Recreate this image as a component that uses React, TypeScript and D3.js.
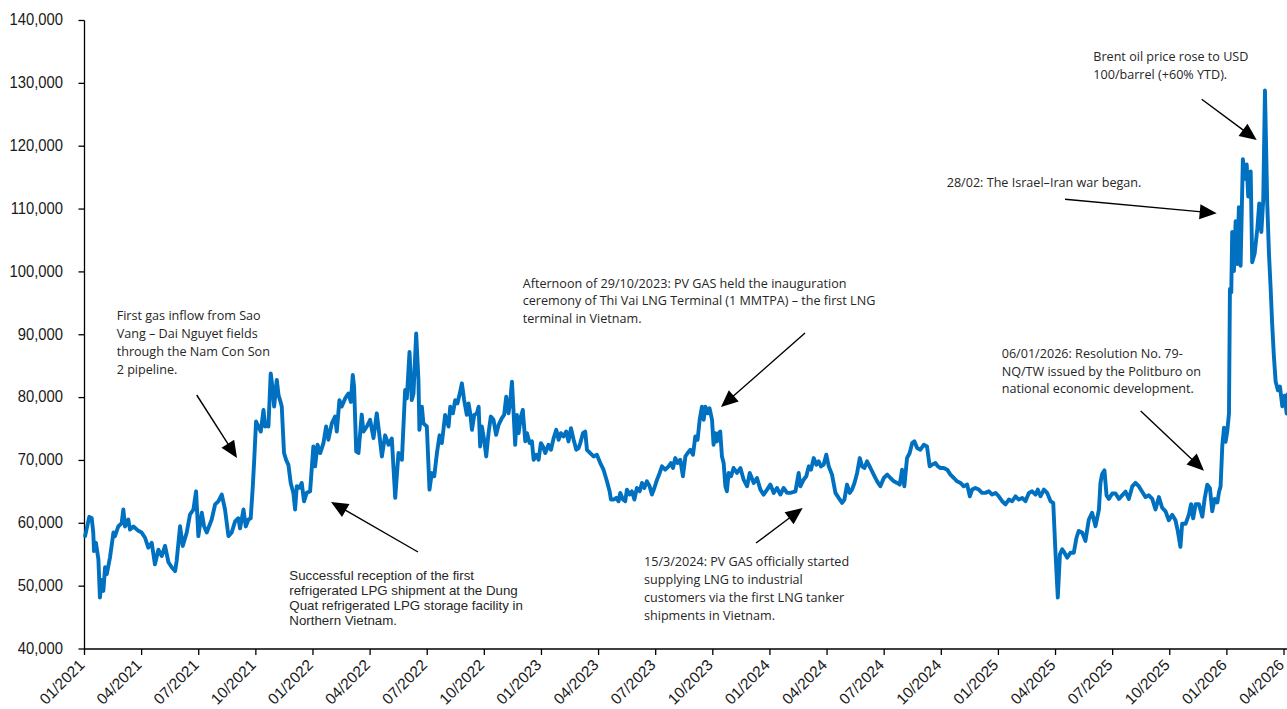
import React from 'react';
import * as d3 from 'd3';

const W = 1287;
const H = 709;

// x = months since 01/2021, y = share price (VND)
const series2021: [number, number][] = [
  [0.03, 57960], [0.25, 61030], [0.38, 60800], [0.46, 58540], [0.5, 55580], [0.6, 56900], [0.73, 54260], [0.81, 48190],
  [0.9, 51000], [0.99, 49240], [1.08, 53000], [1.17, 51900], [1.34, 54580], [1.52, 58540], [1.6, 57960], [1.78, 59540],
  [1.95, 60000], [2.04, 62190], [2.13, 59500], [2.3, 60600], [2.39, 59000], [2.57, 59500], [2.83, 58800], [3.0, 58540],
  [3.18, 57700], [3.35, 56120], [3.53, 56900], [3.7, 53470], [3.88, 55800], [4.06, 54800], [4.23, 56400], [4.41, 53800],
  [4.58, 53000], [4.76, 52400], [4.84, 54000], [5.02, 59540], [5.16, 56400], [5.37, 58540], [5.54, 61400], [5.72, 62190],
  [5.86, 65090], [5.98, 57960], [6.16, 61670], [6.28, 59540], [6.42, 58540], [6.68, 60600], [6.86, 63000], [7.03, 63500],
  [7.21, 64570], [7.38, 62190], [7.56, 57960], [7.73, 58540], [7.91, 60300], [8.08, 60800], [8.17, 59200], [8.35, 62190],
  [8.47, 59500], [8.61, 60600], [8.73, 60800], [8.84, 65900], [8.91, 69850], [9.01, 76190], [9.13, 75400], [9.26, 74600],
  [9.4, 78040], [9.49, 75400], [9.61, 75900], [9.66, 75400], [9.78, 83860], [9.89, 81210], [9.96, 78570], [10.1, 82800],
  [10.19, 80400], [10.27, 79600], [10.36, 78570], [10.48, 71180], [10.59, 70100], [10.71, 69300], [10.83, 66420],
  [10.97, 64840], [11.06, 62190], [11.15, 65900], [11.29, 65650], [11.41, 66420], [11.53, 63500], [11.67, 64840], [11.85, 65100],
];

const series2022: [number, number][] = [
  [12.02, 72230], [12.11, 69050], [12.24, 72500], [12.38, 71180], [12.55, 72760], [12.69, 75400], [12.81, 73300],
  [12.99, 75900], [13.16, 77000], [13.25, 74600], [13.39, 79600], [13.51, 78570], [13.69, 79870], [13.86, 80660],
  [13.99, 79300], [14.09, 83590], [14.16, 81740], [14.27, 71440], [14.39, 71180], [14.56, 77300], [14.65, 74600],
  [14.83, 75400], [15.0, 76460], [15.18, 73560], [15.35, 77500], [15.49, 74000], [15.62, 70640], [15.79, 74000],
  [15.97, 72500], [16.14, 73500], [16.32, 64040], [16.49, 71180], [16.67, 70100], [16.84, 81210], [16.93, 79870],
  [17.07, 87280], [17.19, 79600], [17.28, 80660], [17.42, 90190], [17.54, 82800], [17.59, 74870], [17.72, 78570],
  [17.8, 75900], [17.98, 75400], [18.12, 65360], [18.24, 67990], [18.37, 67500], [18.51, 71180], [18.65, 74000],
  [18.77, 72760], [18.94, 77250], [19.12, 75400], [19.21, 78560], [19.35, 77500], [19.47, 79600], [19.59, 79080],
  [19.73, 80940], [19.82, 82270], [19.94, 79600], [20.08, 77250], [20.17, 79080], [20.26, 77500], [20.35, 74870],
  [20.47, 77250], [20.61, 77500], [20.7, 78560], [20.78, 72230], [20.87, 75400], [20.99, 73290], [21.1, 70640],
  [21.22, 74340], [21.34, 76980], [21.48, 76460], [21.62, 74070], [21.75, 75660], [21.92, 76720], [22.04, 77250],
  [22.15, 80150], [22.27, 77500], [22.36, 79340], [22.45, 82530], [22.53, 78040], [22.62, 72490], [22.71, 77250],
  [22.8, 74340], [22.92, 76980],
];

const series2023: [number, number][] = [
  [23.02, 78040], [23.15, 73030], [23.24, 74340], [23.38, 72760], [23.5, 73030], [23.59, 70110], [23.73, 70900],
  [23.85, 70110], [23.97, 72760], [24.08, 72230], [24.2, 71180], [24.37, 72490], [24.5, 71700], [24.64, 73550],
  [24.78, 74870], [24.9, 73290], [25.02, 74340], [25.16, 73820], [25.3, 74600], [25.42, 73030], [25.55, 75130],
  [25.69, 73290], [25.83, 71700], [25.95, 71970], [26.04, 72760], [26.18, 74340], [26.3, 74600], [26.39, 71700],
  [26.56, 71180], [26.74, 70640], [26.91, 70900], [27.09, 69590], [27.26, 68530], [27.44, 66680], [27.58, 65090],
  [27.65, 63780], [27.79, 63780], [27.93, 64040], [28.05, 63500], [28.14, 64840], [28.28, 63780], [28.4, 63500],
  [28.49, 65360], [28.63, 64570], [28.75, 65090], [28.88, 63780], [29.01, 65620], [29.16, 65090], [29.28, 66420],
  [29.4, 65620], [29.54, 66680], [29.68, 65890], [29.8, 64570], [29.93, 65620], [30.07, 66940], [30.21, 68010],
  [30.33, 69060], [30.5, 68530], [30.68, 69060], [30.8, 69590], [30.91, 68800], [31.03, 70380], [31.15, 69590],
  [31.29, 70110], [31.43, 67480], [31.56, 70640], [31.68, 71180], [31.82, 71700], [31.96, 70900], [32.08, 73820],
  [32.2, 73290], [32.31, 76460], [32.43, 78560], [32.52, 76460], [32.61, 78560], [32.73, 77500], [32.83, 78300],
  [32.96, 76460], [33.04, 72490], [33.13, 74340], [33.22, 73030], [33.31, 74340], [33.39, 74600], [33.48, 70640],
  [33.57, 69590], [33.66, 65890], [33.74, 65090], [33.83, 68010], [33.96, 67480], [34.09, 68800], [34.27, 68010],
  [34.45, 68800], [34.62, 66940], [34.8, 65890], [34.94, 68010], [35.15, 66420], [35.32, 67210], [35.5, 65360],
  [35.67, 64570], [35.85, 65360],
];

const series2024: [number, number][] = [
  [36.02, 66160], [36.2, 64840], [36.37, 65620], [36.55, 64570], [36.72, 65620], [36.9, 64840], [37.07, 64840],
  [37.34, 65090], [37.51, 68010], [37.6, 65890], [37.77, 66940], [37.91, 67480], [38.04, 69060], [38.16, 68530],
  [38.3, 70380], [38.44, 69330], [38.56, 69850], [38.68, 69060], [38.82, 69330], [38.96, 70910], [39.09, 69060],
  [39.26, 67740], [39.44, 64840], [39.61, 64040], [39.79, 63250], [39.91, 63780], [40.05, 66160], [40.19, 64840],
  [40.31, 65360], [40.44, 66420], [40.58, 68010], [40.72, 70380], [40.84, 69060], [40.96, 68800], [41.1, 69850],
  [41.28, 68800], [41.45, 67740], [41.63, 66680], [41.8, 65890], [41.98, 67210], [42.16, 67740], [42.33, 67210],
  [42.51, 66680], [42.68, 66420], [42.82, 66160], [42.94, 68530], [43.06, 65890], [43.2, 70380], [43.34, 71180],
  [43.47, 72760], [43.59, 73030], [43.73, 71970], [43.9, 71700], [44.08, 72490], [44.25, 72230], [44.39, 69060],
  [44.52, 69330], [44.69, 69590], [44.82, 69060], [44.96, 68800], [45.13, 68800], [45.31, 68530], [45.48, 67740],
  [45.66, 67210], [45.83, 66680], [46.01, 66420], [46.18, 65890], [46.36, 66160], [46.5, 64300], [46.62, 65360],
  [46.79, 65620], [46.97, 65360], [47.14, 64840], [47.32, 64840], [47.5, 65090], [47.67, 64570], [47.85, 64840],
];

const series2025: [number, number][] = [
  [48.02, 64300], [48.2, 63510], [48.37, 63000], [48.55, 63780], [48.72, 63510], [48.9, 64300], [49.07, 63780],
  [49.25, 64040], [49.42, 63510], [49.6, 64840], [49.77, 65090], [49.95, 64570], [50.07, 65360], [50.21, 64300],
  [50.39, 65360], [50.56, 64840], [50.74, 63510], [50.88, 63250], [50.99, 55850], [51.12, 48190], [51.23, 55060],
  [51.35, 55850], [51.47, 55320], [51.61, 54530], [51.79, 55320], [51.96, 55320], [52.1, 57700], [52.22, 58790],
  [52.4, 58530], [52.57, 57200], [52.75, 60600], [52.92, 61670], [53.1, 59540], [53.28, 62190], [53.36, 66420],
  [53.45, 67850], [53.57, 68420], [53.68, 64450], [53.8, 63880], [53.98, 64740], [54.15, 64740], [54.33, 63880],
  [54.5, 64450], [54.68, 65030], [54.85, 63880], [55.03, 65870], [55.2, 66440], [55.38, 65870], [55.55, 65030],
  [55.73, 64170], [55.9, 64450], [56.08, 63880], [56.25, 62190], [56.43, 64170], [56.6, 62480], [56.78, 61900],
  [56.95, 60490], [57.13, 61340], [57.3, 60490], [57.42, 58790], [57.56, 56250], [57.65, 59920], [57.83, 59920],
  [58.0, 61340], [58.12, 63050], [58.23, 60780], [58.36, 63050], [58.53, 63050], [58.71, 61060], [58.83, 63880],
  [58.97, 66150], [59.11, 65590], [59.23, 61900], [59.36, 63880], [59.5, 63310], [59.59, 65030], [59.67, 65870],
  [59.76, 72380], [59.85, 75200], [59.93, 72950],
];

const series2026: [number, number][] = [
  [60.02, 74630], [60.11, 77470], [60.16, 97280], [60.23, 96720], [60.28, 106350], [60.37, 100120], [60.46, 108050],
  [60.55, 101250], [60.63, 110310], [60.72, 100970], [60.84, 117950], [60.95, 114830], [61.04, 117100], [61.12, 112000],
  [61.25, 115970], [61.33, 101530], [61.46, 102950], [61.6, 106920], [61.7, 110880], [61.81, 106350], [61.91, 111440],
  [62.0, 128870], [62.12, 110880], [62.21, 102940], [62.3, 97280], [62.38, 91620], [62.47, 86530], [62.56, 82570],
  [62.68, 81170], [62.79, 81740], [62.91, 78610], [63.03, 80300], [63.14, 77470], [63.19, 80500],
];

const tickLabels = [
  '01/2021', '04/2021', '07/2021', '10/2021', '01/2022', '04/2022', '07/2022', '10/2022',
  '01/2023', '04/2023', '07/2023', '10/2023', '01/2024', '04/2024', '07/2024', '10/2024',
  '01/2025', '04/2025', '07/2025', '10/2025', '01/2026', '04/2026',
];

const yTicks = [40000, 50000, 60000, 70000, 80000, 90000, 100000, 110000, 120000, 130000, 140000];

const noteGas = ['First gas inflow from Sao', 'Vang – Dai Nguyet fields', 'through the Nam Con Son', '2 pipeline.'];
const noteLpg = [
  'Successful reception of the first',
  'refrigerated LPG shipment at the Dung',
  'Quat refrigerated LPG storage facility in',
  'Northern Vietnam.',
];
const noteThiVai = [
  'Afternoon of 29/10/2023: PV GAS held the inauguration',
  'ceremony of Thi Vai LNG Terminal (1 MMTPA) – the first LNG',
  'terminal in Vietnam.',
];
const noteLng = [
  '15/3/2024: PV GAS officially started',
  'supplying LNG to industrial',
  'customers via the first LNG tanker',
  'shipments in Vietnam.',
];
const noteResolution = [
  '06/01/2026: Resolution No. 79-',
  'NQ/TW issued by the Politburo on',
  'national economic development.',
];
const noteWar = ['28/02: The Israel–Iran war began.'];
const noteBrent = ['Brent oil price rose to USD', '100/barrel (+60% YTD).'];

const SEG = "'Open Sans', 'Noto Sans', sans-serif";
const ARIAL = "'Liberation Sans', Arial, sans-serif";

function Arrow({ x1, y1, x2, y2 }: { x1: number; y1: number; x2: number; y2: number }) {
  const len = Math.hypot(x2 - x1, y2 - y1);
  const ux = (x2 - x1) / len;
  const uy = (y2 - y1) / len;
  const hl = 17;
  const hw = 7.5;
  const bx = x2 - ux * hl;
  const by = y2 - uy * hl;
  const pts = [
    [x2, y2],
    [bx - uy * hw, by + ux * hw],
    [bx + uy * hw, by - ux * hw],
  ]
    .map((p) => p.join(','))
    .join(' ');
  return (
    <g>
      <line x1={x1} y1={y1} x2={bx + ux * 2} y2={by + uy * 2} stroke="#000" strokeWidth={1.4} />
      <polygon points={pts} fill="#000" />
    </g>
  );
}

function Note({
  lines,
  x,
  y,
  lh,
  font,
  size,
}: {
  lines: string[];
  x: number;
  y: number;
  lh: number;
  font: string;
  size: number;
}) {
  return (
    <text x={x} y={y} fontFamily={font} fontSize={size} fill="#262626">
      {lines.map((l, i) => (
        <tspan key={i} x={x} y={y + i * lh}>
          {l}
        </tspan>
      ))}
    </text>
  );
}

export default function App() {
  const data = [...series2021, ...series2022, ...series2023, ...series2024, ...series2025, ...series2026];
  const x = d3.scaleLinear().domain([0, 63]).range([84.5, 1284]);
  const y = d3.scaleLinear().domain([40000, 140000]).range([649, 20.5]);
  const line = d3
    .line<[number, number]>()
    .x((d) => x(d[0]))
    .y((d) => y(d[1]));
  const x0 = x(0);
  const yBase = y(40000);
  const fmt = d3.format(',');

  return (
    <svg
      width={W}
      height={H}
      viewBox={`0 0 ${W} ${H}`}
      style={{ position: 'absolute', left: 0, top: 0, background: '#fff' }}
    >
      <rect x={0} y={0} width={W} height={H} fill="#fff" />
      {/* y axis */}
      <line x1={x0} y1={y(140000)} x2={x0} y2={yBase} stroke="#000" strokeWidth={1.3} />
      {yTicks.map((t) => (
        <g key={t}>
          <line x1={x0 - 6} x2={x0} y1={y(t)} y2={y(t)} stroke="#000" strokeWidth={1.3} />
          <text
            transform={`translate(63,${y(t) + 4.8}) scale(0.87,1)`}
            textAnchor="end"
            fontFamily={ARIAL}
            fontSize={17}
            fill="#1a1a1a"
          >
            {fmt(t)}
          </text>
        </g>
      ))}
      {/* x axis */}
      <line x1={x0} y1={yBase} x2={W} y2={yBase} stroke="#000" strokeWidth={1.3} />
      {tickLabels.map((lab, i) => {
        const tx = x(i * 3);
        return (
          <g key={lab}>
            <line x1={tx} x2={tx} y1={yBase} y2={yBase + 6} stroke="#000" strokeWidth={1.3} />
            <text
              transform={`translate(${tx + 1},${yBase + 17}) rotate(-45)`}
              textAnchor="end"
              fontFamily={ARIAL}
              fontSize={15.5}
              fill="#1a1a1a"
            >
              {lab}
            </text>
          </g>
        );
      })}
      {/* price line */}
      <path d={line(data) || ''} fill="none" stroke="#0070C0" strokeWidth={3.9} strokeLinejoin="round" strokeLinecap="round" />

      {/* annotations */}
      <Note lines={noteGas} x={116.7} y={319.5} lh={18.3} font={SEG} size={12.6} />
      <Arrow x1={196.7} y1={395} x2={237} y2={458} />
      <Note lines={noteLpg} x={289.3} y={579.7} lh={15} font={ARIAL} size={13.3} />
      <Arrow x1={418} y1={552} x2={331} y2={502} />
      <Note lines={noteThiVai} x={522.7} y={287.5} lh={17.5} font={SEG} size={12.6} />
      <Arrow x1={805} y1={333} x2={721} y2={407} />
      <Note lines={noteLng} x={644} y={566} lh={18.1} font={SEG} size={12.6} />
      <Arrow x1={756} y1={543} x2={802.7} y2={508} />
      <Note lines={noteResolution} x={1001.7} y={357.8} lh={17.8} font={SEG} size={12.6} />
      <Arrow x1={1140.7} y1={411} x2={1204} y2={470.7} />
      <Note lines={noteWar} x={946.7} y={187.3} lh={18} font={SEG} size={12.6} />
      <Arrow x1={1065} y1={199.3} x2={1216.7} y2={213.3} />
      <Note lines={noteBrent} x={1093.3} y={60.8} lh={18.3} font={SEG} size={12.6} />
      <Arrow x1={1201.7} y1={99.3} x2={1256.7} y2={140} />
    </svg>
  );
}
